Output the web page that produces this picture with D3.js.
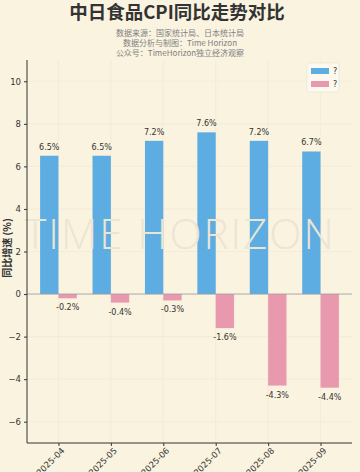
<!DOCTYPE html>
<html lang="zh">
<meta charset='utf-8'>
<style>
  body{ margin:0; background:#faf3e0 }
  svg{ display:block }
  text{ font-family:'DejaVu Sans','Noto Sans CJK SC',sans-serif; fill:#333 }
  .title{ font-family:'Noto Sans CJK SC',sans-serif; font-size:18.5px; font-weight:bold; text-anchor:middle }
  .sub{ font-family:'Noto Sans CJK SC',sans-serif; font-size:8px; fill:#808080; text-anchor:middle }
  .tick text{ font-size:8.5px; fill:#333 }
  .val{ font-size:8px; text-anchor:middle; fill:#333 }
</style>
<body>
<script src='https://cdn.jsdelivr.net/npm/d3@7/dist/d3.min.js'></script>
<script>

  var months = ['2025-04', '2025-05', '2025-06', '2025-07', '2025-08', '2025-09']
  var china = [6.5, 6.5, 7.2, 7.6, 7.2, 6.7]
  var japan = [-0.2, -0.4, -0.3, -1.6, -4.3, -4.4]
  var yTicks = [-6, -4, -2, 0, 2, 4, 6, 8, 10]
  var legendNames = ['?', '?']

  var blue = '#5dade2', pink = '#e899ae'
  var W = 360, H = 472
  var m = {left:27, right:352, top:60, bottom:443}

  var svg = d3.select('body').append('svg').attr('width', W).attr('height', H)
  svg.append('rect').attr('width', W).attr('height', H).attr('fill', '#faf3e0')

  svg.append('text').attr('class', 'title').attr('x', 177).attr('y', 19).text('中日食品CPI同比走势对比')
  svg.append('text').attr('class', 'sub').attr('x', 180).attr('y', 36).text('数据来源：国家统计局、日本统计局')
  svg.append('text').attr('class', 'sub').attr('x', 180).attr('y', 46).text('数据分析与制图：Time Horizon')
  svg.append('text').attr('class', 'sub').attr('x', 180).attr('y', 56).text('公众号：TimeHorizon独立经济观察')

  var x = d3.scaleLinear().domain([-0.6, months.length - 0.4]).range([m.left, m.right])
  var y = d3.scaleLinear().domain([-7, 11]).range([m.bottom, m.top])
  var bw = x(0.35) - x(0)

  // grid
  var g = svg.append('g')
  g.selectAll('.hg').data(yTicks).enter().append('line')
    .attr('x1', m.left).attr('x2', m.right)
    .attr('y1', d => y(d)).attr('y2', d => y(d))
    .attr('stroke', '#f0e7d0').attr('stroke-width', 0.6)
  g.selectAll('.vg').data(months).enter().append('line')
    .attr('x1', (d, i) => x(i)).attr('x2', (d, i) => x(i))
    .attr('y1', m.top).attr('y2', m.bottom)
    .attr('stroke', '#f0e7d0').attr('stroke-width', 0.6)

  // watermark
  svg.append('text').attr('x', 180).attr('y', 249).attr('text-anchor', 'middle')
    .style('font-family', "'Open Sans','DejaVu Sans',sans-serif").style('font-weight', 300)
    .style('font-size', '42px').style('letter-spacing', '2px').style('fill', '#ece5d4')
    .text('TIME HORIZON')

  // bars
  g.selectAll('.cn').data(china).enter().append('rect')
    .attr('x', (d, i) => x(i) - bw).attr('width', bw)
    .attr('y', d => y(d)).attr('height', d => y(0) - y(d))
    .attr('fill', blue)
  g.selectAll('.jp').data(japan).enter().append('rect')
    .attr('x', (d, i) => x(i)).attr('width', bw)
    .attr('y', y(0)).attr('height', d => y(d) - y(0))
    .attr('fill', pink)

  g.selectAll('.cnv').data(china).enter().append('text').attr('class', 'val')
    .attr('x', (d, i) => x(i) - bw / 2).attr('y', d => y(d) - 6)
    .text(d => d.toFixed(1) + '%')
  g.selectAll('.jpv').data(japan).enter().append('text').attr('class', 'val')
    .attr('x', (d, i) => x(i) + bw / 2).attr('y', d => y(d) + 12)
    .text(d => d.toFixed(1) + '%')

  // zero line
  svg.append('line').attr('x1', m.left).attr('x2', m.right)
    .attr('y1', y(0)).attr('y2', y(0)).attr('stroke', '#999').attr('stroke-width', 0.8)

  // axes
  var ya = svg.append('g').attr('transform', 'translate(' + m.left + ',0)')
    .call(d3.axisLeft(y).tickValues(yTicks).tickSize(3).tickPadding(3).tickFormat(d3.format('d')))
  ya.select('.domain').attr('stroke', '#333').attr('d', 'M0,' + m.top + 'V' + m.bottom)
  ya.selectAll('.tick line').attr('stroke', '#333')

  var xa = svg.append('g').attr('transform', 'translate(0,' + m.bottom + ')')
    .call(d3.axisBottom(x).tickValues(d3.range(months.length)).tickSize(3).tickFormat(i => months[i]))
  xa.select('.domain').attr('stroke', '#333').attr('d', 'M' + m.left + ',0H' + m.right)
  xa.selectAll('.tick line').attr('stroke', '#333')
  xa.selectAll('.tick text').attr('text-anchor', 'end')
    .attr('transform', 'translate(4,6) rotate(-45)').attr('dy', '0.35em').attr('y', 0).attr('x', 0)

  svg.append('text').attr('transform', 'translate(11,' + 248 + ') rotate(-90)')
    .attr('text-anchor', 'middle').style('font-family', "'Noto Sans CJK SC',sans-serif")
    .style('font-size', '10px').style('font-weight', 'bold').text('同比增速 (%)')

  // legend
  var lg = svg.append('g').attr('transform', 'translate(307,63)')
  lg.append('rect').attr('width', 32).attr('height', 29).attr('rx', 2)
    .attr('fill', '#fdf9ef').attr('stroke', '#e6e0d2').attr('stroke-width', 0.6)
  lg.selectAll('.li').data(legendNames).enter().append('rect')
    .attr('x', 4).attr('y', (d, i) => 5 + i * 13).attr('width', 18).attr('height', 6)
    .attr('fill', (d, i) => i ? pink : blue)
  lg.selectAll('.lt').data(legendNames).enter().append('text')
    .attr('x', 26).attr('y', (d, i) => 11 + i * 13).style('font-size', '8px').text(d => d)
</script>
</body>
</html>
